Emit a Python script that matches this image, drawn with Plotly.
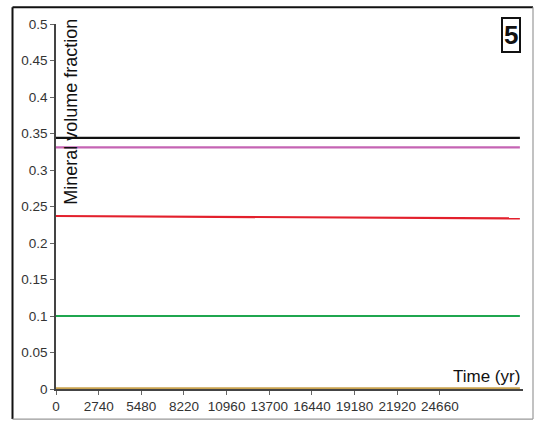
import plotly.graph_objects as go

# Simulation output: mineral volume fractions over time
time_yr = [0, 2740, 5480, 8220, 10960, 13700, 16440, 19180, 21920, 24660, 27400, 29800]
mineral_black = [0.344] * 12
mineral_pink = [0.331] * 12
mineral_red = [0.2370, 0.2367, 0.2364, 0.2361, 0.2358, 0.2355, 0.2352, 0.2349, 0.2346, 0.2343, 0.2340, 0.2337]
mineral_green = [0.100] * 12
mineral_brown = [0.001] * 12

x_ticks = [0, 2740, 5480, 8220, 10960, 13700, 16440, 19180, 21920, 24660]
y_ticks = [0, 0.05, 0.1, 0.15, 0.2, 0.25, 0.3, 0.35, 0.4, 0.45, 0.5]
y_tick_text = ["0", "0.05", "0.1", "0.15", "0.2", "0.25", "0.3", "0.35", "0.4", "0.45", "0.5"]

series = [
    (mineral_brown, "#c9a24e"),
    (mineral_green, "#1fa64f"),
    (mineral_red, "#e3202c"),
    (mineral_pink, "#c564b4"),
    (mineral_black, "#111111"),
]

fig = go.Figure()
for values, color in series:
    fig.add_trace(go.Scatter(x=time_yr, y=values, mode="lines",
                             line=dict(color=color, width=2.2),
                             showlegend=False, hoverinfo="skip"))

W, H = 536, 426
L, R, T, B = 56, 13, 24, 32
pw, ph = W - L - R, H - T - B

def px_x(p):
    return (p - L) / pw

def px_y(p):
    return (H - B - p) / ph

font_family = "Arial, Liberation Sans, sans-serif"
tick_font = dict(family=font_family, size=13.5, color="#333333")

fig.update_layout(
    width=W, height=H,
    margin=dict(l=L, r=R, t=T, b=B),
    paper_bgcolor="white", plot_bgcolor="white",
    font=dict(family=font_family, size=13.5, color="#333333"),
    xaxis=dict(range=[0, 30000], tickvals=x_ticks, ticktext=[str(v) for v in x_ticks],
               showgrid=False, zeroline=False, showline=True, linecolor="#444444",
               linewidth=1.5, ticks="outside", ticklen=4, tickcolor="#666666",
               tickfont=tick_font),
    yaxis=dict(range=[0, 0.5], tickvals=y_ticks, ticktext=y_tick_text,
               showgrid=False, zeroline=False, showline=True, linecolor="#444444",
               linewidth=1.5, ticks="outside", ticklen=4, tickcolor="#666666",
               tickfont=tick_font),
    shapes=[
        # outer frame
        dict(type="line", xref="paper", yref="paper", x0=px_x(12.5), x1=px_x(12.5),
             y0=px_y(7), y1=px_y(424.5), line=dict(color="#111111", width=2)),
        dict(type="line", xref="paper", yref="paper", x0=px_x(12.5), x1=px_x(533),
             y0=px_y(7), y1=px_y(7), line=dict(color="#111111", width=2)),
        dict(type="line", xref="paper", yref="paper", x0=px_x(533), x1=px_x(533),
             y0=px_y(7), y1=px_y(424.5), line=dict(color="#999999", width=1.2)),
        dict(type="line", xref="paper", yref="paper", x0=px_x(12.5), x1=px_x(533),
             y0=px_y(424.5), y1=px_y(424.5), line=dict(color="#999999", width=1.2)),
    ],
    annotations=[
        dict(text="Mineral volume fraction", xref="paper", yref="paper",
             x=px_x(71), y=px_y(113), xanchor="center", yanchor="middle",
             textangle=-90, showarrow=False,
             font=dict(family=font_family, size=18, color="#111111")),
        dict(text="Time (yr)", xref="paper", yref="paper",
             x=px_x(522), y=px_y(393), xanchor="right", yanchor="bottom",
             showarrow=False, font=dict(family=font_family, size=17, color="#111111")),
        dict(text="<b>5</b>", xref="paper", yref="paper",
             x=px_x(511), y=px_y(35), xanchor="center", yanchor="middle",
             showarrow=False, bordercolor="#111111", borderwidth=2, borderpad=1,
             bgcolor="white", font=dict(family=font_family, size=26, color="#111111")),
    ],
)

fig.write_html("out.html")
